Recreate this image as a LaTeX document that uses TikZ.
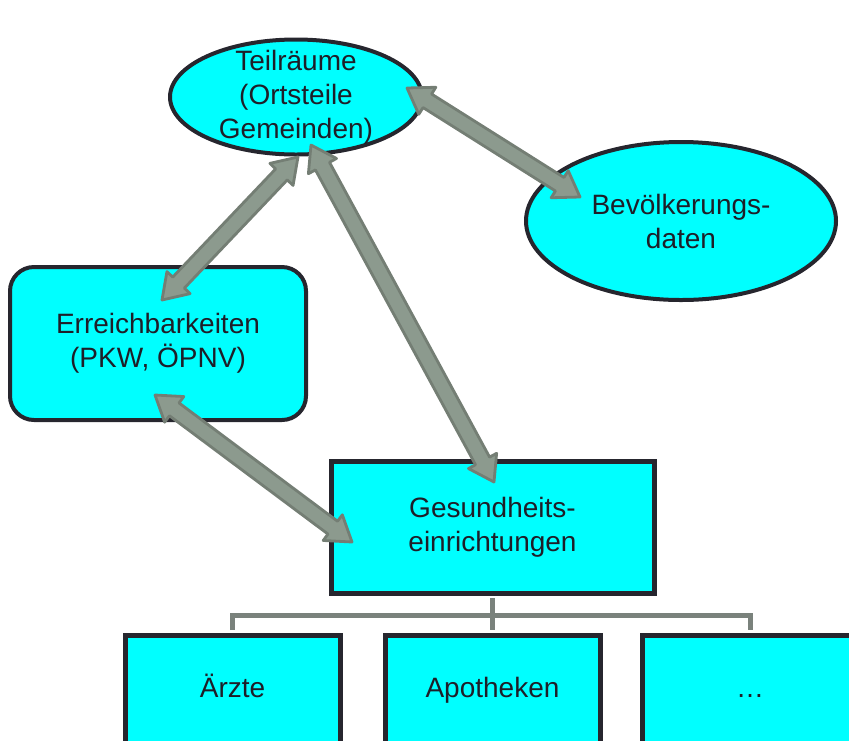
\documentclass[tikz,border=0pt]{standalone}
\usepackage{fontspec}
\setmainfont{Liberation Sans}
\usetikzlibrary{calc,shapes.geometric}
\definecolor{BoxClr}{RGB}{0,255,255}
\definecolor{EdgeClr}{RGB}{38,38,46}
\definecolor{ArrowClr}{RGB}{140,154,142}
\definecolor{ArrowLineClr}{RGB}{116,126,116}
\definecolor{TreeClr}{RGB}{122,130,124}
\definecolor{TextClr}{RGB}{30,30,40}

\newcommand{\BlockArrow}[2]{%
  \draw[fatarrow] (#1)
    -- ($(#1)!12pt!(#2)!8pt!90:(#2)$)
    -- ($(#1)!12pt!(#2)!4pt!90:(#2)$)
    -- ($(#2)!12pt!(#1)!4pt!-90:(#1)$)
    -- ($(#2)!12pt!(#1)!8pt!-90:(#1)$)
    -- (#2)
    -- ($(#2)!12pt!(#1)!8pt!90:(#1)$)
    -- ($(#2)!12pt!(#1)!4pt!90:(#1)$)
    -- ($(#1)!12pt!(#2)!4pt!-90:(#2)$)
    -- ($(#1)!12pt!(#2)!8pt!-90:(#2)$)
    -- cycle;}

\begin{document}
\begin{tikzpicture}[x=0.5pt,y=-0.5pt,
  every node/.style={font=\fontsize{14}{17}\selectfont,text=TextClr,align=center},
  bubble/.style={ellipse,draw=EdgeClr,line width=2pt,fill=BoxClr,inner sep=0pt},
  roundbox/.style={rectangle,rounded corners=12pt,draw=EdgeClr,line width=2pt,fill=BoxClr},
  squarebox/.style={rectangle,draw=EdgeClr,line width=2.5pt,fill=BoxClr},
  leafbox/.style={squarebox,minimum width=107.5pt,minimum height=55pt,text height=10pt,text depth=3pt},
  fatarrow/.style={fill=ArrowClr,draw=ArrowLineClr,line width=1.4pt,line join=round},
  tree/.style={draw=TreeClr,line width=2.5pt}]

\clip (0,0) rectangle (849,740);

\node[bubble,inner ysep=-6pt,minimum width=126pt,minimum height=57.5pt] (teil) at (296,97) {Teilräume\\(Ortsteile\\Gemeinden)};
\node[bubble,minimum width=155pt,minimum height=79pt] (bev) at (681,221) {Bevölkerungs-\\daten};
\node[roundbox,minimum width=148pt,minimum height=76.5pt] (erreich) at (158,343.5) {Erreichbarkeiten\\(PKW, ÖPNV)};
\node[squarebox,minimum width=161.5pt,minimum height=66pt] (gesund) at (492.5,527) {Gesundheits-\\einrichtungen};

\node[leafbox] (aerzte) at (232.5,690) {Ärzte};
\node[leafbox] (apo) at (492.5,690) {Apotheken};
\node[leafbox] (etc) at (750,690) {…};

\coordinate (fork) at (492.5,615);
\draw[tree,shorten <=1.25pt] (gesund.south) -- (fork);
\draw[tree,shorten <=1.25pt,shorten >=1.25pt] (aerzte.north) |- (fork) -| (etc.north);
\draw[tree,shorten >=1.25pt] (fork) -- (apo.north);

\coordinate (teilR) at (407,88);
\coordinate (bevL) at (580,197);
\coordinate (teilS) at (298,157);
\coordinate (erreichN) at (162,300);
\coordinate (teilSE) at (311,145);
\coordinate (gesundN) at (494,482);
\coordinate (erreichS) at (155,395);
\coordinate (gesundW) at (352,542);

\BlockArrow{teilR}{bevL}
\BlockArrow{teilS}{erreichN}
\BlockArrow{teilSE}{gesundN}
\BlockArrow{erreichS}{gesundW}

\end{tikzpicture}
\end{document}
